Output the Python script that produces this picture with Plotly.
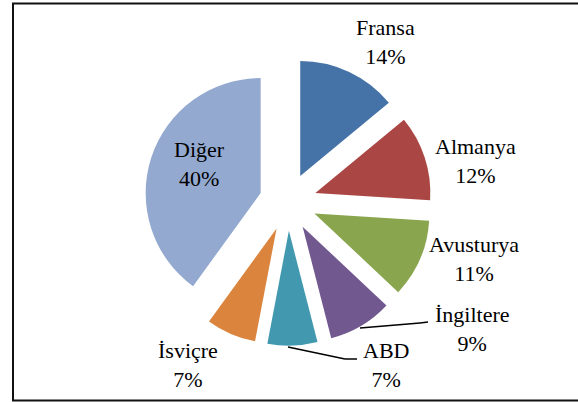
import plotly.graph_objects as go

# ---- data ----
countries = ["Fransa", "Almanya", "Avusturya", "İngiltere", "ABD", "İsviçre", "Diğer"]
shares = [14, 12, 11, 9, 7, 7, 40]
colors = ["#4572A7", "#AA4643", "#89A54E", "#71588F", "#4198AF", "#DB843D", "#93A9CF"]

W, H = 578, 403
FONT = "Liberation Serif"

fig = go.Figure(go.Pie(
    labels=countries,
    values=shares,
    sort=False,
    direction="clockwise",
    rotation=0,
    pull=[0.25] * len(shares),
    marker=dict(colors=colors, line=dict(width=0)),
    textinfo="none",
    hoverinfo="label+percent",
    showlegend=False,
    domain=dict(x=[144.25 / W, 431.75 / W], y=[1 - 345.75 / H, 1 - 58.25 / H]),
))

# label placement (pixel centres), styling only
label_pos = {
    "Fransa": (385, 42),
    "Almanya": (475, 161),
    "Avusturya": (474, 259),
    "İngiltere": (472, 329),
    "ABD": (386, 365),
    "İsviçre": (188, 365),
    "Diğer": (200, 164),
}

annotations = []
for name, val in zip(countries, shares):
    px, py = label_pos[name]
    annotations.append(dict(
        x=px / W, y=1 - py / H, xref="paper", yref="paper",
        text=f"{name}<br>{val}%", showarrow=False,
        font=dict(family=FONT, size=22, color="#000000"),
        xanchor="center", yanchor="middle", align="center",
    ))

# leader lines
leaders = [
    [(360, 328), (420, 323), (428, 322)],
    [(288, 347), (345, 359), (357, 359)],
]
shapes = []
for pts in leaders:
    for (x0, y0), (x1, y1) in zip(pts[:-1], pts[1:]):
        shapes.append(dict(type="line", xref="paper", yref="paper",
                           x0=x0 / W, y0=1 - y0 / H, x1=x1 / W, y1=1 - y1 / H,
                           line=dict(color="#000000", width=1.5)))

# chart border
shapes.append(dict(type="rect", xref="paper", yref="paper",
                   x0=13 / W, y0=1 - 400.5 / H, x1=1.02, y1=1 - 3.5 / H,
                   line=dict(color="#111111", width=2), fillcolor="rgba(0,0,0,0)"))

fig.update_layout(
    width=W, height=H,
    margin=dict(l=0, r=0, t=0, b=0),
    paper_bgcolor="white", plot_bgcolor="white",
    font=dict(family=FONT),
    annotations=annotations, shapes=shapes,
)

fig.write_html("out.html", config={"displayModeBar": False},
               post_script="document.body.style.margin='0';")
